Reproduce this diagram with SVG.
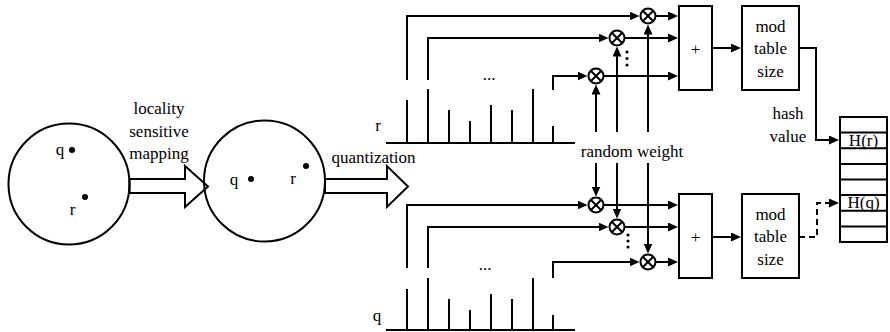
<svg xmlns="http://www.w3.org/2000/svg" width="890" height="332" viewBox="0 0 890 332" font-family="'Liberation Serif', 'Times New Roman', Tinos, 'DejaVu Serif', serif">
<style>
text{font-family:'Liberation Serif','Times New Roman',Tinos,'DejaVu Serif',serif;font-size:17px;fill:#000}
.m{text-anchor:middle}
.ln{fill:none;stroke:#000;stroke-width:2}
.bx{fill:#fff;stroke:#000;stroke-width:2}
.ar{fill:none;stroke:#000;stroke-width:2;marker-end:url(#ah)}
.dash{stroke-dasharray:6,4}
.dot{fill:#000}
</style>
<defs>
<marker id="ah" markerWidth="10" markerHeight="9" refX="7" refY="4.5" orient="auto" markerUnits="userSpaceOnUse"><path d="M0,0 L10,4.5 L0,9 z" fill="#000"/></marker>
<g id="mul"><circle r="7.5" fill="#fff" stroke="#000" stroke-width="2"/><path d="M-5.3,-5.3 L5.3,5.3 M5.3,-5.3 L-5.3,5.3" stroke="#000" stroke-width="2"/></g>
</defs>
<rect width="890" height="332" fill="#fff"/>

<g id="space1">
<polygon class="bx" points="129.5,179 185,179 185,166 208,186.5 185,207 185,193 129.5,193"/>
<circle class="ln" cx="69" cy="184" r="60.5"/>
<circle class="dot" cx="72" cy="150" r="3"/>
<circle class="dot" cx="85" cy="197" r="3"/>
<text class="m" x="60" y="155">q</text>
<text class="m" x="72.5" y="215">r</text>
</g>
<g id="lsm-label">
<text class="m" x="159" y="114">locality</text>
<text class="m" x="159" y="136.5">sensitive</text>
<text class="m" x="159" y="159">mapping</text>
</g>
<g id="space2">
<polygon class="bx" points="325,179 387,179 387,166 408,186.5 387,207 387,193 325,193"/>
<circle class="ln" cx="264.5" cy="181" r="60.5"/>
<circle class="dot" cx="251" cy="179" r="3"/>
<circle class="dot" cx="306" cy="166" r="3"/>
<text class="m" x="234" y="184.5">q</text>
<text class="m" x="293" y="184">r</text>
<text class="m" x="373.5" y="163">quantization</text>
</g>

<g id="hist-r">
<text class="m" x="378" y="131">r</text>
<path class="ln" d="M386,143 H575 M407,143 V100 M428,143 V89 M449,143 V110 M470,143 V121 M491,143 V105 M512,143 V110 M533,143 V89 M553,143 V126"/>
<text class="m" x="489" y="80">...</text>
</g>
<g id="hist-q">
<text class="m" x="377" y="321">q</text>
<path class="ln" d="M386,330 H575 M407,330 V289 M428,330 V278 M449,330 V299 M470,330 V310 M491,330 V294 M512,330 V299 M533,330 V278 M553,330 V315"/>
<text class="m" x="485" y="270">...</text>
</g>

<g id="connectors">
<path class="ar" d="M407,80 V16 H636.5"/>
<path class="ar" d="M428,80 V38 H605.5"/>
<path class="ar" d="M553,90 V76 H584.5"/>
<path class="ar" d="M596,132 V87.5"/>
<path class="ar" d="M617,132 V49.5"/>
<path class="ar" d="M648,132 V27.5"/>
<path class="ar" d="M655.5,16 H675"/>
<path class="ar" d="M624.5,38 H675"/>
<path class="ar" d="M603.5,76 H675"/>
<path class="ar" d="M712,48 H738"/>
<path class="ar" d="M799,48 H816 V140 H836"/>
<path class="ar" d="M407,268 V205 H584.5"/>
<path class="ar" d="M428,268 V227 H605.5"/>
<path class="ar" d="M553,278 V262 H636.5"/>
<path class="ar" d="M596,163 V193.5"/>
<path class="ar" d="M617,163 V215.5"/>
<path class="ar" d="M648,163 V250.5"/>
<path class="ar" d="M603.5,205 H675"/>
<path class="ar" d="M624.5,227 H675"/>
<path class="ar" d="M655.5,262 H675"/>
<path class="ar" d="M712,237 H738"/>
<path class="ar dash" d="M799,237 H817 V203 H836"/>
</g>

<g id="mult-upper">
<use href="#mul" x="648" y="16"/>
<use href="#mul" x="617" y="38"/>
<use href="#mul" x="596" y="76"/>
<circle class="dot" cx="627" cy="52" r="1.6"/>
<circle class="dot" cx="627" cy="58.5" r="1.6"/>
<circle class="dot" cx="627" cy="65" r="1.6"/>
</g>
<g id="mult-lower">
<use href="#mul" x="596" y="205"/>
<use href="#mul" x="617" y="227"/>
<use href="#mul" x="648" y="262"/>
<circle class="dot" cx="628" cy="235" r="1.6"/>
<circle class="dot" cx="628" cy="241" r="1.6"/>
<circle class="dot" cx="628" cy="247" r="1.6"/>
</g>
<g id="random-weight"><text class="m" x="632" y="157">random weight</text></g>

<g id="sum-upper"><rect class="bx" x="679" y="6" width="33" height="84"/><text class="m" x="695.5" y="55">+</text></g>
<g id="sum-lower"><rect class="bx" x="679" y="194" width="33" height="84"/><text class="m" x="695.5" y="243">+</text></g>
<g id="mod-upper"><rect class="bx" x="742" y="6" width="57" height="84"/>
<text class="m" x="770.5" y="31.5">mod</text><text class="m" x="770.5" y="54">table</text><text class="m" x="770.5" y="76.5">size</text></g>
<g id="mod-lower"><rect class="bx" x="742" y="194" width="57" height="84"/>
<text class="m" x="770.5" y="219.5">mod</text><text class="m" x="770.5" y="242">table</text><text class="m" x="770.5" y="264.5">size</text></g>
<g id="hash-label"><text class="m" x="788" y="119">hash</text><text class="m" x="788" y="141.5">value</text></g>

<g id="hash-table">
<rect class="bx" x="840" y="117" width="47" height="125"/>
<path class="ln" d="M840,132.6 H887 M840,148.2 H887 M840,163.9 H887 M840,179.5 H887 M840,195.1 H887 M840,210.7 H887 M840,226.4 H887"/>
<text class="m" x="863.5" y="145.5">H(r)</text>
<text class="m" x="863.5" y="207.5">H(q)</text>
</g>
</svg>
